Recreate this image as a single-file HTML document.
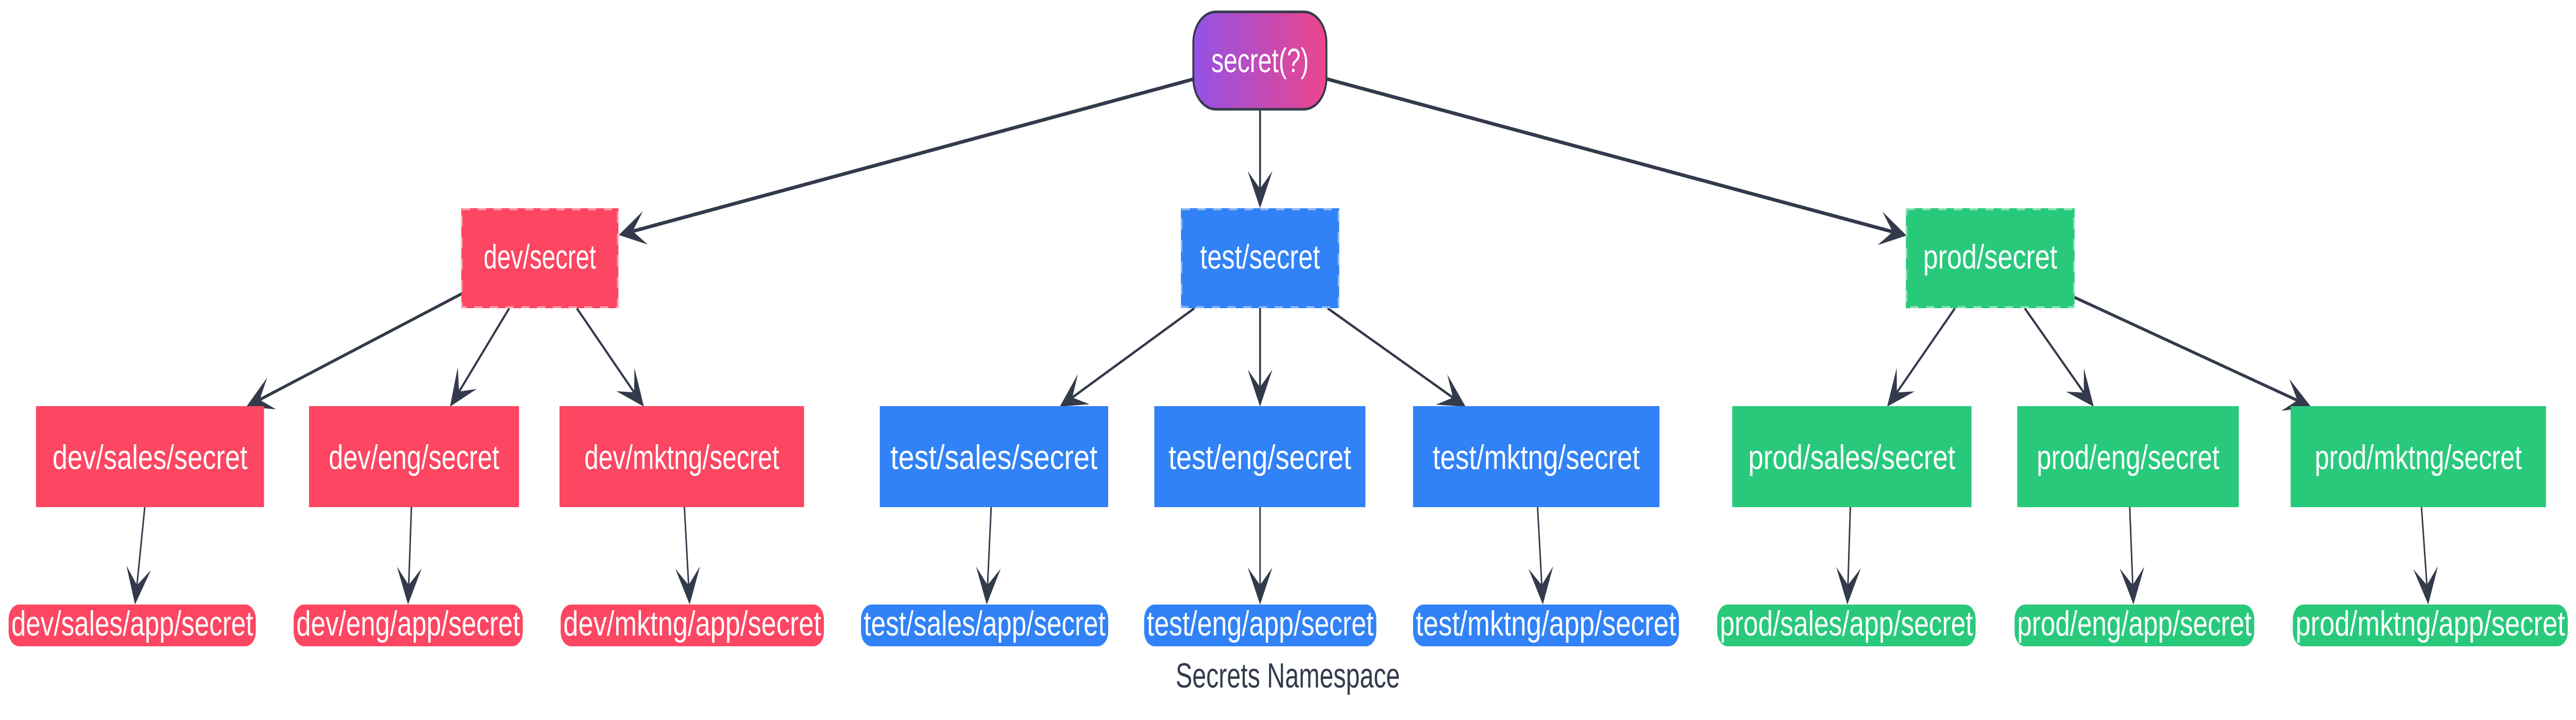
<!DOCTYPE html>
<html><head><meta charset="utf-8"><style>
html,body{margin:0;padding:0;background:#fff;width:100%;height:100%;overflow:hidden;}
svg{display:block;width:100vw;height:100vh;}
text{font-family:"Liberation Sans",sans-serif;}
</style></head><body>
<svg id="s" viewBox="0 0 6869 1397" preserveAspectRatio="none" xmlns="http://www.w3.org/2000/svg">
<defs>
<linearGradient id="g" x1="0" x2="1" y1="0" y2="0"><stop offset="0" stop-color="#9452e6"/><stop offset="1" stop-color="#ec458c"/></linearGradient>
</defs>
<rect x="3182" y="23" width="355" height="189" rx="60" fill="url(#g)" stroke="#333a4b" stroke-width="5"/>
<text x="3360" y="140" font-size="66" fill="#fff" text-anchor="middle" textLength="260" lengthAdjust="spacingAndGlyphs">secret(?)</text>
<g id="edges"></g>
<g id="nodes"></g>
<text x="3434" y="1334" font-size="68" fill="#333a4b" text-anchor="middle" textLength="598" lengthAdjust="spacingAndGlyphs">Secrets Namespace</text>
</svg>
<script>
var NS="http://www.w3.org/2000/svg";
function el(t,a,p,txt){var e=document.createElementNS(NS,t);for(var k in a)e.setAttribute(k,a[k]);if(txt)e.textContent=txt;document.getElementById(p).appendChild(e);return e;}
var R="#fc4662",B="#3182f6",G="#29c97c";
var RL="#ff9aa8",BL="#8ab8fb",GL="#8ae3b6";
[[1230,404,419,194,R,RL,"dev/secret",300],[3149,404,422,194,B,BL,"test/secret",320],[5082,404,450,194,G,GL,"prod/secret",358]].forEach(function(n){
 el("rect",{x:n[0],y:n[1],width:n[2],height:n[3],fill:n[4]},"nodes");
 el("rect",{x:n[0]+2,y:n[1]+2,width:n[2]-4,height:n[3]-4,fill:"none",stroke:n[5],"stroke-width":4,"stroke-dasharray":"22 20"},"nodes");
 el("text",{x:n[0]+n[2]/2,y:n[1]+117,"font-size":66,fill:"#fff","text-anchor":"middle",textLength:n[7],lengthAdjust:"spacingAndGlyphs"},"nodes",n[6]);
});
[[96,608,R,"dev/sales/secret"],[824,560,R,"dev/eng/secret"],[1492,652,R,"dev/mktng/secret"],
 [2346,609,B,"test/sales/secret"],[3078,563,B,"test/eng/secret"],[3768,657,B,"test/mktng/secret"],
 [4619,638,G,"prod/sales/secret"],[5379,591,G,"prod/eng/secret"],[6108,681,G,"prod/mktng/secret"]].forEach(function(n){
 el("rect",{x:n[0],y:788,width:n[1],height:196,fill:n[2]},"nodes");
 var tl=n[3].length*32.5;
 el("text",{x:n[0]+n[1]/2,y:910,"font-size":66,fill:"#fff","text-anchor":"middle",textLength:tl,lengthAdjust:"spacingAndGlyphs"},"nodes",n[3]);
});
[[23,659,R,"dev/sales/app/secret"],[783,611,R,"dev/eng/app/secret"],[1495,702,R,"dev/mktng/app/secret"],
 [2296,659,B,"test/sales/app/secret"],[3051,619,B,"test/eng/app/secret"],[3768,709,B,"test/mktng/app/secret"],
 [4579,689,G,"prod/sales/app/secret"],[5372,639,G,"prod/eng/app/secret"],[6114,733,G,"prod/mktng/app/secret"]].forEach(function(n){
 el("rect",{x:n[0],y:1173,width:n[1],height:81,rx:28,fill:n[2]},"nodes");
 el("text",{x:n[0]+n[1]/2,y:1233,"font-size":68,fill:"#fff","text-anchor":"middle",textLength:n[1]-14,lengthAdjust:"spacingAndGlyphs"},"nodes",n[3]);
});
function arrow(x1,y1,x2,y2,w){
 var dx=x2-x1,dy=y2-y1,L=Math.sqrt(dx*dx+dy*dy),ux=dx/L,uy=dy/L,px=-uy,py=ux;
 var len=72,hw=33,notch=38;
 var nx=x2-ux*notch,ny=y2-uy*notch;
 el("line",{x1:x1,y1:y1,x2:nx,y2:ny,stroke:"#333a4b","stroke-width":w},"edges");
 var bx=x2-ux*len,by=y2-uy*len;
 var pts=[[x2,y2],[bx+px*hw,by+py*hw],[nx,ny],[bx-px*hw,by-py*hw]].map(function(p){return p[0].toFixed(1)+","+p[1].toFixed(1)}).join(" ");
 el("polygon",{points:pts,fill:"#333a4b"},"edges");
}
arrow(3185,153,1650,456,7);
arrow(3360,214,3360,404,5);
arrow(3537,153,5084,457,7);
arrow(1231,570,657,789,6);
arrow(1358,598,1200,789,5);
arrow(1538,598,1717,789,5);
arrow(3185,598,2826,789,5);
arrow(3360,598,3360,789,5);
arrow(3540,598,3908,789,5);
arrow(5213,598,5032,789,5);
arrow(5399,598,5583,789,5);
arrow(5532,577,6162,789,6);
arrow(386,984,360,1173,4);
arrow(1097,984,1088,1173,4);
arrow(1825,984,1839,1173,4);
arrow(2643,984,2631,1173,4);
arrow(3360,984,3360,1173,4);
arrow(4100,984,4114,1173,4);
arrow(4934,984,4926,1173,4);
arrow(5679,984,5689,1173,4);
arrow(6457,984,6475,1173,4);
</script>
</body></html>
